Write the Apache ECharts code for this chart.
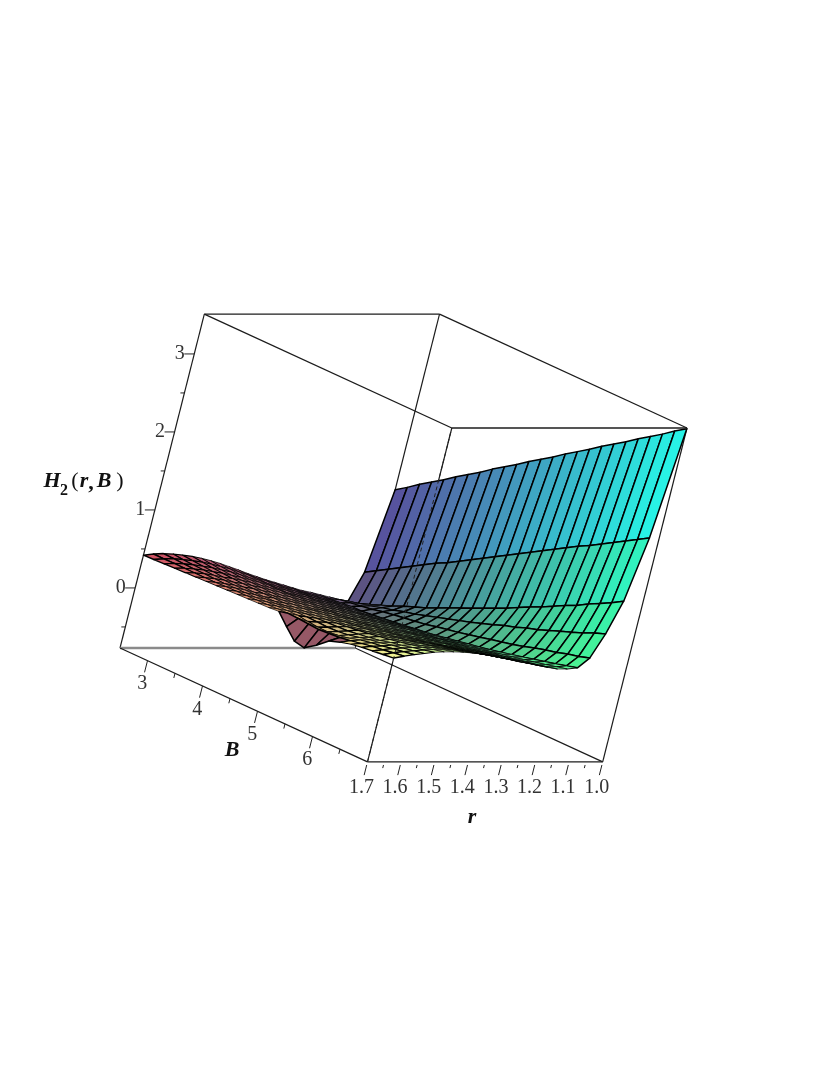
<!DOCTYPE html>
<html>
<head>
<meta charset="utf-8">
<style>html,body{margin:0;padding:0;background:#fff}#c{width:830px;height:1075px;filter:blur(0.4px)}</style>
<script src="https://cdn.jsdelivr.net/npm/echarts@6/dist/echarts.min.js"></script>
</head>
<body>
<div id="c"></div>
<script>
var rRange = [1.0, 1.7];
var bRange = [2.5, 7.0];
var zRange = [-0.77, 3.51];
var rStep = 0.7 / 24;
var bStep = 4.5 / 24;
// surface heights: one row per r grid line (r = 1.0 ... 1.7), one value per B grid line (B = 2.5 ... 7)
var zGrid = [
[1.26,1.35,1.45,1.54,1.63,1.73,1.82,1.91,2.01,2.10,2.19,2.29,2.38,2.47,2.57,2.66,2.75,2.85,2.94,3.03,3.13,3.22,3.31,3.41,3.50],
[.20,.28,.36,.44,.52,.60,.68,.75,.83,.91,.99,1.07,1.15,1.23,1.31,1.39,1.47,1.55,1.63,1.70,1.78,1.86,1.94,2.02,2.10],
[-.19,-.14,-.09,-.04,.01,.07,.12,.17,.23,.29,.35,.41,.47,.53,.59,.66,.73,.79,.86,.93,.99,1.07,1.14,1.21,1.29],
[-.145,-.11,-.08,-.05,-.01,.02,.06,.09,.13,.17,.21,.25,.29,.335,.38,.43,.47,.52,.56,.61,.66,.71,.76,.82,.87],
[-.115,-.09,-.07,-.05,-.03,0,.02,.04,.06,.08,.11,.135,.16,.19,.22,.25,.28,.31,.345,.385,.42,.45,.49,.52,.56],
[-.085,-.08,-.069,-.056,-.054,-.04,-.025,-.01,.007,.024,.042,.061,.085,.106,.132,.154,.182,.21,.24,.27,.301,.334,.366,.40,.435],
[-.055,-.047,-.039,-.03,-.019,-.007,.006,.02,.034,.051,.068,.087,.106,.124,.147,.17,.193,.217,.243,.27,.298,.326,.356,.388,.42],
[-.03,-.021,-.011,0,.007,.02,.029,.044,.059,.076,.094,.108,.127,.143,.164,.186,.209,.234,.259,.28,.307,.335,.359,.389,.42],
[.005,.008,.018,.028,.04,.047,.056,.07,.086,.102,.115,.134,.148,.169,.19,.212,.231,.25,.276,.302,.33,.353,.378,.408,.44],
[.04,.047,.05,.054,.064,.076,.083,.097,.107,.123,.14,.154,.168,.189,.21,.228,.252,.272,.298,.326,.349,.374,.405,.437,.465],
[.075,.075,.082,.09,.089,.10,.112,.119,.129,.144,.162,.175,.189,.21,.232,.249,.269,.294,.317,.345,.369,.40,.427,.455,.49],
[.11,.114,.114,.116,.124,.129,.135,.147,.156,.166,.183,.196,.21,.231,.253,.271,.291,.317,.34,.364,.394,.421,.449,.484,.515],
[.15,.152,.145,.15,.151,.155,.164,.17,.179,.188,.199,.217,.231,.247,.269,.288,.309,.33,.354,.385,.411,.44,.475,.507,.54],
[.19,.185,.18,.179,.178,.186,.189,.194,.201,.21,.221,.233,.252,.268,.286,.305,.326,.349,.374,.406,.433,.464,.495,.53,.565],
[.235,.228,.222,.219,.218,.219,.216,.225,.227,.24,.246,.263,.272,.293,.306,.325,.347,.37,.396,.424,.453,.484,.517,.553,.59],
[.275,.266,.254,.255,.248,.248,.25,.248,.254,.262,.272,.284,.293,.309,.327,.347,.369,.388,.415,.443,.473,.505,.534,.571,.61],
[.315,.305,.292,.286,.278,.277,.273,.276,.281,.283,.294,.301,.314,.326,.344,.363,.381,.406,.428,.457,.483,.516,.552,.585,.625],
[.35,.335,.327,.317,.313,.308,.304,.301,.307,.309,.32,.327,.335,.352,.365,.384,.402,.421,.449,.473,.503,.532,.562,.60,.635],
[.38,.365,.352,.342,.339,.333,.329,.327,.328,.335,.341,.348,.356,.368,.381,.395,.413,.437,.459,.483,.509,.537,.572,.605,.64],
[.405,.392,.38,.372,.364,.36,.357,.355,.357,.355,.36,.367,.376,.387,.40,.415,.432,.45,.472,.495,.519,.547,.575,.607,.64],
[.42,.409,.399,.391,.381,.377,.375,.37,.372,.375,.381,.388,.397,.403,.411,.415,.422,.44,.46,.482,.516,.541,.574,.604,.635],
[.435,.423,.417,.413,.405,.404,.40,.401,.40,.405,.406,.414,.418,.419,.416,.41,.415,.431,.46,.489,.51,.543,.567,.593,.62],
[.44,.437,.43,.424,.425,.422,.419,.423,.423,.424,.431,.435,.439,.44,.421,.409,.408,.423,.449,.487,.515,.534,.56,.582,.605],
[.435,.433,.436,.435,.435,.435,.436,.443,.445,.448,.451,.455,.46,.465,.46,.45,.44,.45,.46,.48,.505,.53,.546,.568,.585],
[.42,.425,.43,.435,.44,.445,.45,.455,.46,.465,.47,.475,.48,.49,.355,.23,.205,.30,.415,.46,.495,.515,.53,.545,.56]
];
var zTicks = [0, 1, 2, 3];
var zMinorTicks = [-0.5, 0.5, 1.5, 2.5];
var bTicks = [3, 4, 5, 6];
var bMinorTicks = [3.5, 4.5, 5.5, 6.5];
var rTicks = [1.7, 1.6, 1.5, 1.4, 1.3, 1.2, 1.1, 1.0];
var rMinorTicks = [1.65, 1.55, 1.45, 1.35, 1.25, 1.15, 1.05];

// fixed oblique view of the (r, B, z) box
function project(r, b, z) {
  return [
    120 + (rRange[1] - r) * 336 + (b - bRange[0]) * 55 + (z - zRange[0]) * 19.7,
    648 + (b - bRange[0]) * 25.3 - (z - zRange[0]) * 78
  ];
}
var R0 = rRange[0], R1 = rRange[1], B0 = bRange[0], B1 = bRange[1], Z0 = zRange[0], Z1 = zRange[1];
var backEdges = [
  [R1,B0,Z0,R1,B0,Z1],[R0,B0,Z0,R0,B0,Z1],[R0,B1,Z0,R0,B1,Z1],[R1,B1,Z0,R1,B1,Z1],
  [R1,B0,Z1,R0,B0,Z1],[R0,B0,Z1,R0,B1,Z1],[R0,B0,Z0,R0,B1,Z0]
];
var greyEdges = [[R1,B0,Z0,R0,B0,Z0]];
var frontEdges = [[R1,B0,Z1,R1,B1,Z1],[R1,B1,Z1,R0,B1,Z1],[R1,B0,Z0,R1,B1,Z0],[R1,B1,Z0,R0,B1,Z0]];
var throughEdges = [[R1,B1,Z0,R1,B1,Z1]];

function cellColor(k, j) {
  var a = zGrid[k][j], b = zGrid[k+1][j], c = zGrid[k+1][j+1], d = zGrid[k][j+1];
  var z = (a + b + c + d) / 4;
  var tr = (k + 0.5) / 24, tb = (j + 0.5) / 24, tz = (z - Z0) / (Z1 - Z0);
  var cr = (85 - 50 * tb) + tr * (125 + 85 * tb);
  var cg = 80 + 165 * tb;
  var cb = 105 + 150 * tz - 50 * tr + 45 * tr * tb;
  if (k >= 21 && ((a + d) - (b + c)) / 2 > 0.03) { cr = 150; cg = 88; cb = 102; }
  return 'rgb(' + Math.round(Math.min(255, cr)) + ',' + Math.round(Math.min(255, cg)) + ',' + Math.round(Math.min(255, cb)) + ')';
}
var cells = [];
for (var k = 0; k < zGrid.length - 1; k++) for (var j = 0; j < zGrid[0].length - 1; j++) cells.push([k, j]);

function edgeSeries(edges, color, width, dash) {
  return {
    type: 'custom', coordinateSystem: 'cartesian2d', silent: true, clip: false, animation: false,
    data: edges, encode: { x: 0, y: 1 },
    renderItem: function (p, api) {
      var e = edges[p.dataIndex];
      var s = api.coord(project(e[0], e[1], e[2])), t = api.coord(project(e[3], e[4], e[5]));
      return { type: 'line', shape: { x1: s[0], y1: s[1], x2: t[0], y2: t[1] },
               style: { stroke: color, lineWidth: width, lineDash: dash || null } };
    }
  };
}
function tickSeries(values, toStart, toEnd, label) {
  return {
    type: 'custom', coordinateSystem: 'cartesian2d', silent: true, clip: false, animation: false,
    data: values.map(function (v) { return [v, 0]; }), encode: { x: 0, y: 1 },
    renderItem: function (p, api) {
      var v = values[p.dataIndex];
      var s = api.coord(toStart(v)), t = api.coord(toEnd(v));
      var kids = [{ type: 'line', shape: { x1: s[0], y1: s[1], x2: t[0], y2: t[1] }, style: { stroke: '#222', lineWidth: 1 } }];
      if (label) {
        var q = api.coord(label.at(v));
        kids.push({ type: 'text', style: { text: label.text(v), x: q[0], y: q[1], align: 'center', verticalAlign: 'middle',
          font: '20px "Liberation Serif"', fill: '#333' } });
      }
      return { type: 'group', children: kids };
    }
  };
}
function off(pt, dx, dy) { return [pt[0] + dx, pt[1] + dy]; }

var axisTitles = [
  ['H', 52, 481, 'italic bold 22px "Liberation Serif"'],
  ['2', 64, 491, 'bold 16px "Liberation Serif"'],
  ['(', 75, 481, '22px "Liberation Serif"'],
  ['r', 84, 481, 'italic bold 22px "Liberation Serif"'],
  [',', 91, 483, 'bold 22px "Liberation Serif"'],
  ['B', 104, 481, 'italic bold 22px "Liberation Serif"'],
  [')', 120, 481, '22px "Liberation Serif"'],
  ['B', 232, 750, 'italic bold 22px "Liberation Serif"'],
  ['r', 472, 817, 'italic bold 22px "Liberation Serif"']
];

var chart = echarts.init(document.getElementById('c'), null, { renderer: 'canvas' });
chart.setOption({
  animation: false,
  backgroundColor: '#fff',
  grid: { left: 0, top: 0, width: 830, height: 1075, show: false },
  xAxis: { type: 'value', min: 0, max: 830, show: false },
  yAxis: { type: 'value', min: 0, max: 1075, inverse: true, show: false },
  series: [
    edgeSeries(backEdges, '#1c1c1c', 1.2),
    edgeSeries(greyEdges, '#8a8a8a', 2.4),
    {
      type: 'custom', coordinateSystem: 'cartesian2d', silent: true, clip: false, animation: false,
      progressive: 0, data: cells, encode: { x: 0, y: 1 },
      renderItem: function (p, api) {
        var c = cells[p.dataIndex], k = c[0], j = c[1];
        var pts = [[k,j],[k+1,j],[k+1,j+1],[k,j+1]].map(function (g) {
          return api.coord(project(R0 + g[0] * rStep, B0 + g[1] * bStep, zGrid[g[0]][g[1]]));
        });
        // squeezed cells get a finer outline so the fill still shows through the mesh
        var area = 0;
        for (var i = 0; i < 4; i++) {
          var n = pts[(i + 1) % 4];
          area += pts[i][0] * n[1] - n[0] * pts[i][1];
        }
        area = Math.abs(area) / 2;
        var lw = Math.max(0.65, Math.min(1.5, area / 35));
        return { type: 'polygon', shape: { points: pts },
                 style: { fill: cellColor(k, j), stroke: '#000', lineWidth: lw, lineJoin: 'round' } };
      }
    },
    edgeSeries(frontEdges, '#1c1c1c', 1.3),
    edgeSeries(throughEdges, '#222', 1, [4, 3]),
    tickSeries(zTicks, function (v) { return project(R1, B0, v); }, function (v) { return off(project(R1, B0, v), -10, 0); },
      { at: function (v) { return off(project(R1, B0, v), -14.5, 0); }, text: function (v) { return String(v); } }),
    tickSeries(zMinorTicks, function (v) { return project(R1, B0, v); }, function (v) { return off(project(R1, B0, v), -4, 0); }),
    tickSeries(bTicks, function (v) { return project(R1, v, Z0); }, function (v) { return project(R1, v, Z0 - 0.15); },
      { at: function (v) { return off(project(R1, v, Z0), -5.3, 23.4); }, text: function (v) { return String(v); } }),
    tickSeries(bMinorTicks, function (v) { return project(R1, v, Z0); }, function (v) { return project(R1, v, Z0 - 0.06); }),
    tickSeries(rTicks, function (v) { return project(v, B1, Z0 - 0.04); }, function (v) { return project(v, B1, Z0 - 0.17); },
      { at: function (v) { return off(project(v, B1, Z0), -6, 25.5); }, text: function (v) { return v.toFixed(1); } }),
    tickSeries(rMinorTicks, function (v) { return project(v, B1, Z0 - 0.04); }, function (v) { return project(v, B1, Z0 - 0.08); }),
    {
      type: 'custom', coordinateSystem: 'cartesian2d', silent: true, clip: false, animation: false,
      data: axisTitles.map(function (t) { return [t[1], t[2]]; }), encode: { x: 0, y: 1 },
      renderItem: function (p, api) {
        var t = axisTitles[p.dataIndex], q = api.coord([t[1], t[2]]);
        return { type: 'text', style: { text: t[0], x: q[0], y: q[1], align: 'center', verticalAlign: 'middle', font: t[3], fill: '#111' } };
      }
    }
  ]
});
</script>
</body>
</html>
